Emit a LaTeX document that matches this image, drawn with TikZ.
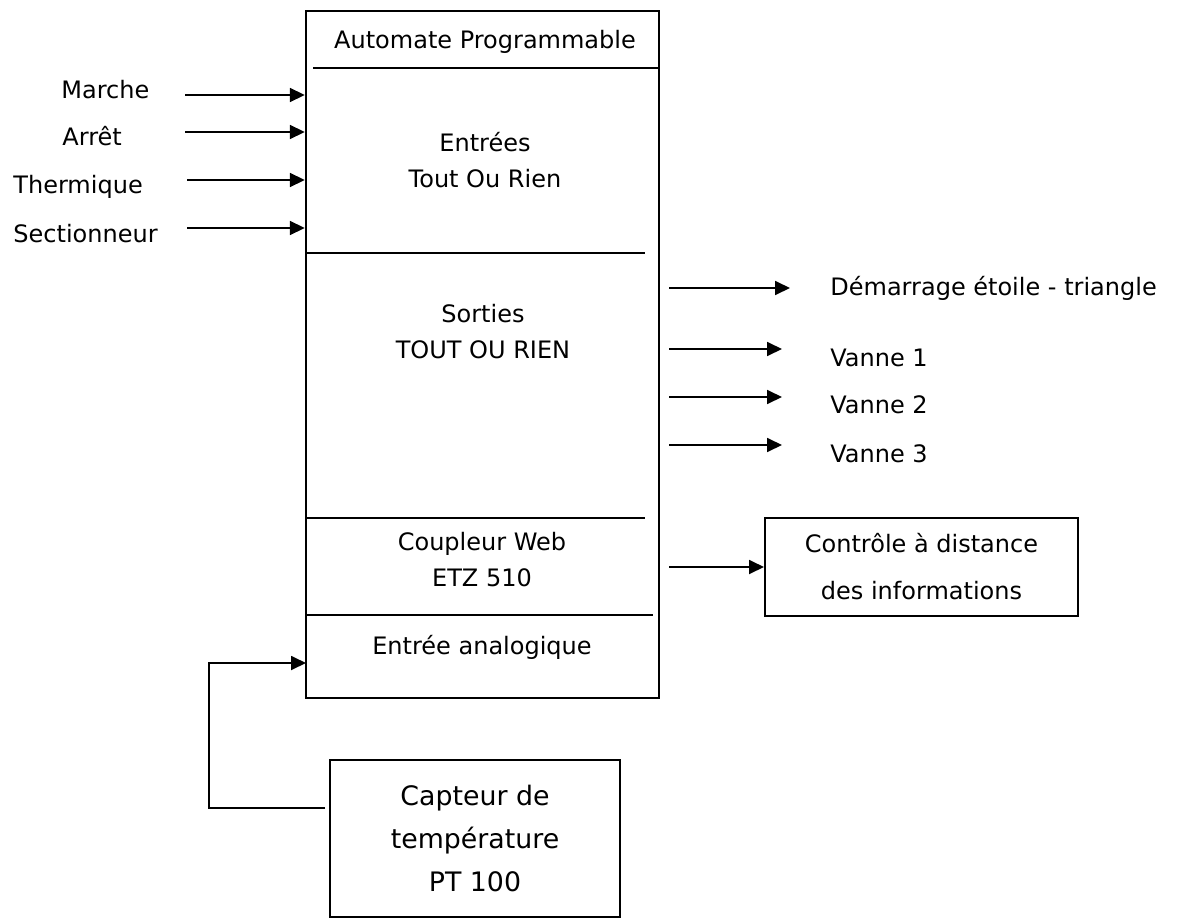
\documentclass[tikz,border=0pt]{standalone}
\usepackage{fontspec}
\setmainfont{DejaVu Sans}
\usepackage{tikz}
\usetikzlibrary{arrows.meta, positioning, calc}
\tikzstyle{block}   = [rectangle, draw=black, line width=1pt, inner sep=0pt, align=center]
\tikzstyle{part}    = [align=center, font=\fontsize{12}{18}\selectfont]
\tikzstyle{signal}  = [anchor=base west, inner sep=0pt, font=\fontsize{12}{18}\selectfont]
\tikzstyle{divider} = [line width=1pt]
\tikzstyle{arrow}   = [line width=0.9pt, -{Triangle[length=7.5pt,width=7pt]}]

\begin{document}
\begin{tikzpicture}[x=0.5pt, y=-0.5pt]
  \useasboundingbox (0,0) rectangle (1177,920);

  % Automate
  \node (plc) [block, line width=1.2pt, minimum width=176.5pt, minimum height=343.5pt] at (482.5,354.5) {};
  \node (title)  [part] at (485,42)  {Automate Programmable};
  \node (tor_in) [part] at (485,160) {Entrées\\Tout Ou Rien};
  \node (tor_out)[part] at (483,332) {Sorties\\TOUT OU RIEN};
  \node (web)    [part] at (482,560) {Coupleur Web\\ETZ 510};
  \node (ana)    [part] at (482,647) {Entrée analogique};

  \draw[divider] (313,68)  -- (659,68);
  \draw[divider] (306,253) -- (645,253);
  \draw[divider] (306,518) -- (645,518);
  \draw[divider] (306,615) -- (653,615);

  % Entrees TOR
  \node (marche)  [signal] at (61,98)  {Marche};
  \node (arret)   [signal] at (62,146) {Arrêt};
  \node (therm)   [signal] at (13,193) {Thermique};
  \node (sect)    [signal] at (13,242) {Sectionneur};
  \coordinate (in1) at (185,95);
  \coordinate (in2) at (185,132);
  \coordinate (in3) at (187,180);
  \coordinate (in4) at (187,228);
  \draw[arrow] (in1) -- (in1 -| plc.west);
  \draw[arrow] (in2) -- (in2 -| plc.west);
  \draw[arrow] (in3) -- (in3 -| plc.west);
  \draw[arrow] (in4) -- (in4 -| plc.west);

  % Sorties TOR
  \node (star)   [signal] at (830,295) {Démarrage étoile - triangle};
  \node (vanne1) [signal] at (830,366) {Vanne 1};
  \node (vanne2) [signal] at (830,413) {Vanne 2};
  \node (vanne3) [signal] at (830,462) {Vanne 3};
  \coordinate (out1) at (790,288);
  \coordinate (out2) at (782,349);
  \coordinate (out3) at (782,397);
  \coordinate (out4) at (782,445);
  \draw[arrow] ([xshift=4.5pt]plc.east |- out1) -- (out1);
  \draw[arrow] ([xshift=4.5pt]plc.east |- out2) -- (out2);
  \draw[arrow] ([xshift=4.5pt]plc.east |- out3) -- (out3);
  \draw[arrow] ([xshift=4.5pt]plc.east |- out4) -- (out4);

  % Controle a distance
  \node (remote) [block, minimum width=156.5pt, minimum height=49pt,
                  font=\fontsize{12}{23.5}\selectfont] at (921.5,567)
                 {Contrôle à distance\\des informations};
  \draw[arrow] ([xshift=4.5pt]plc.east |- remote.west) -- (remote.west);

  % Capteur
  \node (pt100) [block, minimum width=145pt, minimum height=78.5pt,
                 font=\fontsize{13.4}{21.5}\selectfont] at (475,838.5)
                {Capteur de\\température\\PT 100};
  \coordinate (pt_out) at (325,808);
  \coordinate (ana_in) at (306,663);
  \draw[arrow] (pt_out) -- ++(-116,0) |- (ana_in);

\end{tikzpicture}
\end{document}
